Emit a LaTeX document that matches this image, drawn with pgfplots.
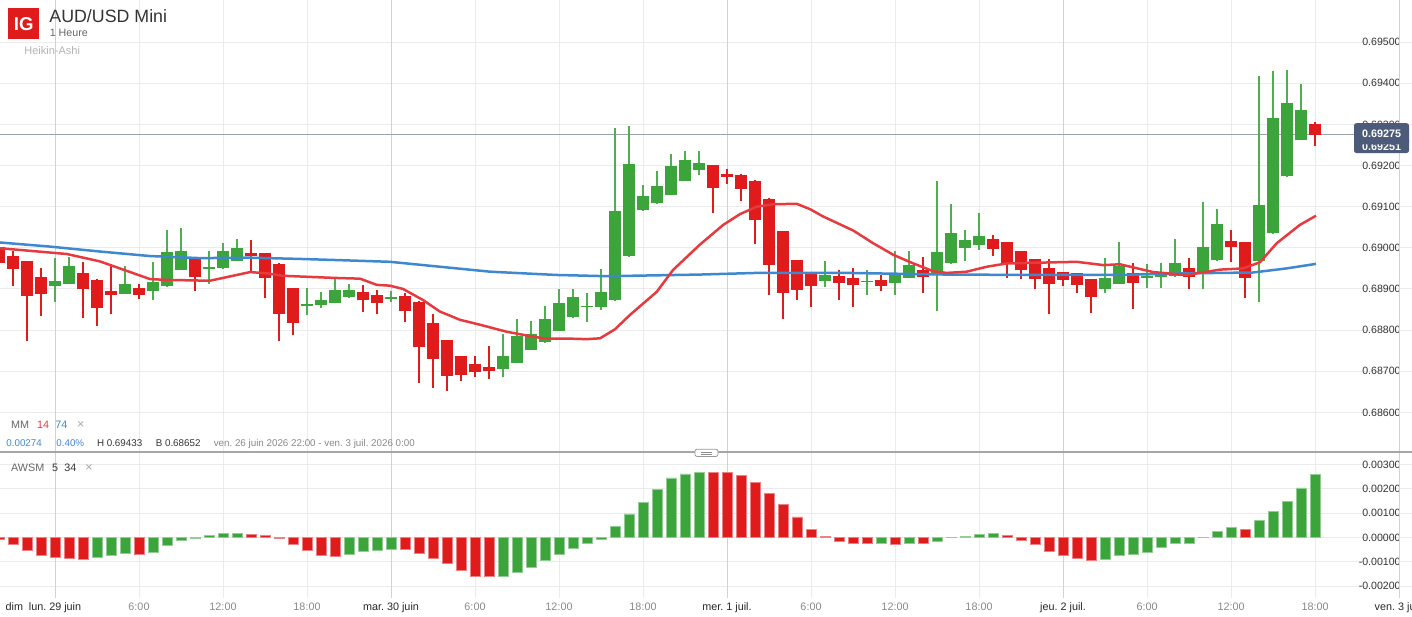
\documentclass[border=0pt]{standalone}
\usepackage{fontspec}
\setmainfont{Liberation Sans}
\usepackage{pgfplots}
\pgfplotsset{compat=1.18}
\usepackage{pgfplotstable}
\frenchspacing
\definecolor{cgreen}{HTML}{3BA43B}
\definecolor{cgreenw}{HTML}{4FAE4F}
\definecolor{cred}{HTML}{E01B1B}
\definecolor{mared}{HTML}{E63A3F}
\definecolor{mablue}{HTML}{3E88CF}
\definecolor{gridl}{HTML}{EBEBEB}
\definecolor{gridd}{HTML}{D2D2D2}
\definecolor{tagbg}{HTML}{4C5B79}
\definecolor{txt}{HTML}{333333}
\definecolor{txtg}{HTML}{888888}
\definecolor{pline}{HTML}{9AA2AA}
\newcommand\fs[1]{\fontsize{#1}{#1}\selectfont}

% Heikin-Ashi candles: hour index (0 = lun. 29 juin 0:00), open, high, low, close
\pgfplotstableread{
h o hi lo c
0 0.68908 0.68976 0.68869 0.68920
1 0.68913 0.68978 0.68912 0.68957
5 0.68888 0.68956 0.68887 0.68911
7 0.68895 0.68966 0.68873 0.68917
8 0.68906 0.69043 0.68905 0.68989
9 0.68946 0.69048 0.68945 0.68993
11 0.68949 0.68993 0.68912 0.68953
12 0.68950 0.69011 0.68949 0.68992
13 0.68969 0.69022 0.68968 0.68999
18 0.68859 0.68903 0.68837 0.68863
19 0.68860 0.68893 0.68854 0.68873
20 0.68866 0.68924 0.68865 0.68897
21 0.68880 0.68912 0.68879 0.68898
24 0.68876 0.68895 0.68869 0.68881
32 0.68705 0.68791 0.68686 0.68737
33 0.68721 0.68827 0.68720 0.68786
34 0.68752 0.68822 0.68751 0.68791
35 0.68770 0.68859 0.68769 0.68827
36 0.68798 0.68901 0.68797 0.68866
37 0.68831 0.68901 0.68830 0.68881
38 0.68855 0.68890 0.68819 0.68859
39 0.68856 0.68949 0.68849 0.68892
40 0.68872 0.69292 0.68871 0.69089
41 0.68979 0.69296 0.68978 0.69205
42 0.69091 0.69153 0.69090 0.69127
43 0.69108 0.69187 0.69107 0.69151
44 0.69129 0.69229 0.69128 0.69198
45 0.69163 0.69236 0.69162 0.69213
46 0.69188 0.69236 0.69178 0.69207
55 0.68920 0.68968 0.68904 0.68934
58 0.68917 0.68947 0.68886 0.68920
60 0.68914 0.68993 0.68885 0.68936
61 0.68927 0.68992 0.68926 0.68958
63 0.68938 0.69163 0.68847 0.68991
64 0.68962 0.69107 0.68961 0.69036
65 0.68999 0.69043 0.68967 0.69019
66 0.69008 0.69085 0.68995 0.69029
75 0.68901 0.68976 0.68889 0.68926
76 0.68913 0.69013 0.68912 0.68957
78 0.68927 0.68961 0.68903 0.68932
79 0.68930 0.68962 0.68903 0.68935
80 0.68931 0.69022 0.68930 0.68963
82 0.68941 0.69112 0.68899 0.69002
83 0.68970 0.69094 0.68969 0.69058
86 0.68968 0.69418 0.68868 0.69103
87 0.69035 0.69429 0.69034 0.69316
88 0.69174 0.69433 0.69173 0.69352
89 0.69262 0.69398 0.69261 0.69335
}\greenc

\pgfplotstableread{
h o hi lo c
-4 0.69003 0.69004 0.68940 0.68962
-3 0.68980 0.68993 0.68907 0.68949
-2 0.68968 0.68969 0.68774 0.68883
-1 0.68929 0.68951 0.68834 0.68888
2 0.68939 0.68966 0.68829 0.68900
3 0.68922 0.68923 0.68810 0.68854
4 0.68894 0.68956 0.68839 0.68886
6 0.68902 0.68911 0.68876 0.68886
10 0.68972 0.68973 0.68896 0.68929
14 0.68987 0.69019 0.68942 0.68981
15 0.68987 0.68988 0.68879 0.68927
16 0.68961 0.68962 0.68774 0.68840
17 0.68902 0.68903 0.68788 0.68818
22 0.68893 0.68910 0.68845 0.68872
23 0.68886 0.68898 0.68840 0.68867
25 0.68884 0.68890 0.68819 0.68847
26 0.68869 0.68870 0.68671 0.68758
27 0.68817 0.68839 0.68659 0.68730
28 0.68776 0.68777 0.68652 0.68689
29 0.68737 0.68738 0.68677 0.68692
30 0.68718 0.68737 0.68687 0.68697
31 0.68711 0.68761 0.68682 0.68701
47 0.69201 0.69202 0.69085 0.69146
48 0.69179 0.69192 0.69156 0.69171
49 0.69177 0.69180 0.69115 0.69144
50 0.69163 0.69164 0.69010 0.69068
51 0.69119 0.69120 0.68886 0.68959
52 0.69041 0.69042 0.68828 0.68891
53 0.68970 0.68971 0.68874 0.68898
54 0.68936 0.68937 0.68855 0.68906
56 0.68932 0.68946 0.68874 0.68915
57 0.68927 0.68951 0.68857 0.68910
59 0.68922 0.68935 0.68896 0.68906
62 0.68945 0.68978 0.68891 0.68928
67 0.69022 0.69031 0.68981 0.68998
68 0.69014 0.69015 0.68926 0.68960
69 0.68992 0.68993 0.68925 0.68946
70 0.68973 0.68974 0.68901 0.68923
71 0.68951 0.68973 0.68840 0.68913
72 0.68941 0.68942 0.68908 0.68922
73 0.68938 0.68939 0.68891 0.68910
74 0.68924 0.68925 0.68842 0.68881
77 0.68938 0.68963 0.68851 0.68915
81 0.68950 0.68975 0.68900 0.68930
84 0.69017 0.69043 0.68965 0.69003
85 0.69014 0.69015 0.68879 0.68927
90 0.69301 0.69306 0.69248 0.69275
}\redc

% moving averages (14 and 74)
\pgfplotstableread{
h p
-3.93 0.68999
0.84 0.68985
3.21 0.68967
6.79 0.68924
8.00 0.68922
11.07 0.68920
13.93 0.68941
15.14 0.68938
16.29 0.68932
19.86 0.68927
21.79 0.68925
22.98 0.68910
23.93 0.68908
24.86 0.68900
26.29 0.68873
27.50 0.68845
28.93 0.68825
30.36 0.68813
32.26 0.68796
34.14 0.68784
35.12 0.68779
37.00 0.68779
37.98 0.68778
38.93 0.68780
40.00 0.68802
41.07 0.68837
42.98 0.68893
44.14 0.68946
46.07 0.69008
47.74 0.69056
48.93 0.69082
50.12 0.69100
51.31 0.69106
52.98 0.69107
53.93 0.69094
54.88 0.69076
57.02 0.69042
58.45 0.69011
59.88 0.68983
61.31 0.68962
62.74 0.68943
63.69 0.68939
65.12 0.68942
66.55 0.68954
67.98 0.68962
70.36 0.68964
72.98 0.68966
74.88 0.68958
76.07 0.68960
78.45 0.68941
80.84 0.68934
83.21 0.68947
84.88 0.68950
86.07 0.68965
87.26 0.69011
88.93 0.69056
90.07 0.69078
}\mafast

\pgfplotstableread{
h p
-3.93 0.69013
-0.36 0.69003
3.21 0.68991
6.79 0.68980
10.36 0.68975
13.93 0.68976
17.50 0.68973
20.36 0.68970
23.93 0.68966
27.50 0.68954
31.07 0.68942
35.84 0.68934
39.41 0.68931
46.07 0.68935
50.12 0.68939
56.55 0.68939
63.69 0.68935
70.36 0.68934
76.07 0.68934
80.84 0.68938
85.57 0.68940
87.98 0.68950
90.07 0.68961
}\maslow

% Awesome oscillator (5, 34)
\pgfplotstableread{
h v
3 -0.00081
4 -0.00072
5 -0.00066
7 -0.00059
8 -0.00033
9 -0.00011
10 -0.00004
11 0.00007
12 0.00018
13 0.00018
21 -0.00068
22 -0.00058
23 -0.00053
24 -0.00047
32 -0.00158
33 -0.00142
34 -0.00121
35 -0.00096
36 -0.00070
37 -0.00044
38 -0.00026
39 -0.00006
40 0.00045
41 0.00097
42 0.00144
43 0.00198
44 0.00245
45 0.00262
46 0.00269
59 -0.00022
61 -0.00025
63 -0.00014
64 0.00001
65 0.00004
66 0.00011
67 0.00018
75 -0.00089
76 -0.00075
77 -0.00071
78 -0.00060
79 -0.00041
80 -0.00026
81 -0.00025
82 -0.00001
83 0.00025
84 0.00040
86 0.00071
87 0.00107
88 0.00149
89 0.00204
90 0.00261
}\awg

\pgfplotstableread{
h v
-4 -0.00009
-3 -0.00027
-2 -0.00053
-1 -0.00072
0 -0.00081
1 -0.00084
2 -0.00089
6 -0.00070
14 0.00011
15 0.00010
16 -0.00004
17 -0.00030
18 -0.00053
19 -0.00072
20 -0.00077
25 -0.00048
26 -0.00066
27 -0.00085
28 -0.00107
29 -0.00134
30 -0.00158
31 -0.00160
47 0.00269
48 0.00267
49 0.00256
50 0.00226
51 0.00181
52 0.00137
53 0.00085
54 0.00034
55 0.00004
56 -0.00015
57 -0.00022
58 -0.00025
60 -0.00028
62 -0.00025
68 0.00007
69 -0.00012
70 -0.00029
71 -0.00056
72 -0.00075
73 -0.00086
74 -0.00095
85 0.00035
}\awr

\pgfplotsset{
  panel/.style={
    scale only axis, width=706pt,
    xmin=-3.9286, xmax=96.9286,
    axis line style={draw=none}, major tick length=0pt,
    xtick={6,12,18,30,36,42,54,60,66,78,84,90},
    extra x ticks={0,24,48,72,96},
    extra x tick style={grid=major, major grid style={gridd, line width=0.5pt}},
    grid=major, major grid style={gridl, line width=0.5pt},
    yticklabel pos=right,
    yticklabel style={anchor=east, inner sep=0pt, xshift=-5.5pt, font=\fs{5.3}, text=txt},
    scaled y ticks=false,
  },
  wick/.style={draw=none, mark=none, forget plot, error bars/.cd, y dir=plus, y explicit, error mark=none, error bar style={draw=#1}},
}

\begin{document}
\begin{tikzpicture}
\useasboundingbox (0,0) rectangle (706pt,-308pt);

\begin{axis}[panel, at={(0pt,0pt)}, anchor=north west, height=226pt,
  ymin=0.685036, ymax=0.696025,
  xticklabels={}, extra x tick labels={},
  ytick={0.686,0.687,0.688,0.689,0.690,0.691,0.692,0.693,0.694,0.695},
  yticklabels={0.68600,0.68700,0.68800,0.68900,0.69000,0.69100,0.69200,0.69300,0.69400,0.69500},
]
\addplot[pline, line width=0.5pt, forget plot] coordinates {(-3.93,0.69275) (92.79,0.69275)};
% wicks
\addplot[wick={cgreenw, line width=0.65pt}] table[x=h, y=lo, y error plus expr=\thisrow{hi}-\thisrow{lo}] {\greenc};
\addplot[wick={cred, line width=1pt}] table[x=h, y=lo, y error plus expr=\thisrow{hi}-\thisrow{lo}] {\redc};
% bodies
\addplot[wick={cgreen, line width=5.9pt}] table[x=h, y=o, y error plus expr=\thisrow{c}-\thisrow{o}] {\greenc};
\addplot[wick={cred, line width=5.9pt}] table[x=h, y=c, y error plus expr=\thisrow{o}-\thisrow{c}] {\redc};
% moving averages
\addplot[mablue, line width=1.25pt, line join=round, mark=none] table[x=h, y=p] {\maslow};
\addplot[mared, line width=1.25pt, line join=round, mark=none] table[x=h, y=p] {\mafast};
\end{axis}

\begin{axis}[panel, at={(0pt,-226pt)}, anchor=north west, height=73pt,
  ymin=-0.00249, ymax=0.003519,
  ytick={-0.002,-0.001,0,0.001,0.002,0.003},
  yticklabels={-0.00200,-0.00100,0.00000,0.00100,0.00200,0.00300},
  xticklabels={\textcolor{txtg}{6:00},\textcolor{txtg}{12:00},\textcolor{txtg}{18:00},
               \textcolor{txtg}{6:00},\textcolor{txtg}{12:00},\textcolor{txtg}{18:00},
               \textcolor{txtg}{6:00},\textcolor{txtg}{12:00},\textcolor{txtg}{18:00},
               \textcolor{txtg}{6:00},\textcolor{txtg}{12:00},\textcolor{txtg}{18:00}},
  extra x tick labels={lun. 29 juin, mar. 30 juin, mer. 1 juil., jeu. 2 juil., ven. 3 juil.},
  xticklabel style={font=\fs{5.4}, text=black!85, anchor=base, inner sep=0pt, yshift=-6.3pt},
]
\addplot[ybar, bar width=5pt, bar shift=0pt, fill=cgreen, draw=cgreen!55!white, line width=0.35pt] table[x=h, y=v] {\awg};
\addplot[ybar, bar width=5pt, bar shift=0pt, fill=cred, draw=cred!55!white, line width=0.35pt] table[x=h, y=v] {\awr};
\end{axis}

% panel separator and handle
\draw[color=black!35, line width=0.6pt] (0,-226pt) -- (706pt,-226pt);
\draw[black!40, fill=white, rounded corners=1pt, line width=0.4pt] (347.5pt,-224.6pt) rectangle (359pt,-228.2pt);
\draw[black!45, line width=0.3pt] (350.5pt,-225.9pt) -- (356pt,-225.9pt) (350.5pt,-226.9pt) -- (356pt,-226.9pt);

% price tags
\fill[tagbg, rounded corners=1.2pt] (677pt,-68.5pt) rectangle (704.5pt,-76.5pt);
\node[text=white, font=\fs{5.4}\bfseries, inner sep=0pt] at (690.75pt,-73.4pt) {0.69251};
\fill[tagbg, rounded corners=1.2pt] (677pt,-61.6pt) rectangle (704.5pt,-72.2pt);
\node[text=white, font=\fs{5.4}\bfseries, inner sep=0pt] at (690.75pt,-67pt) {0.69275};

% header
\fill[cred] (4.15pt,-4.15pt) rectangle (19.65pt,-19.65pt);
\node[text=white, font=\fs{9.3}\bfseries, inner sep=0pt] at (11.9pt,-11.9pt) {IG};
\node[anchor=base west, inner sep=0pt, font=\fs{8.9}, text=txt] at (24.5pt,-11.35pt) {AUD/USD Mini};
\node[anchor=base west, inner sep=0pt, font=\fs{5.35}, text=black!60] at (24.7pt,-18.35pt) {1 Heure};
\node[anchor=base west, inner sep=0pt, font=\fs{5.5}, text=black!30] at (12pt,-27.15pt) {Heikin-Ashi};

% indicator legends
\node[anchor=base west, inner sep=0pt, font=\fs{5.4}, text=black!60] at (5.35pt,-214pt) {MM};
\node[anchor=base west, inner sep=0pt, font=\fs{5.4}, text=mared] at (18.35pt,-214pt) {14};
\node[anchor=base west, inner sep=0pt, font=\fs{5.4}, text=mablue] at (27.5pt,-214pt) {74};
\node[anchor=base west, inner sep=0pt, font=\fs{6.2}, text=black!35] at (38.3pt,-214pt) {×};
\node[anchor=base west, inner sep=0pt, font=\fs{4.9}, text=mablue] at (3pt,-223.3pt) {0.00274};
\node[anchor=base west, inner sep=0pt, font=\fs{4.9}, text=mablue] at (28pt,-223.3pt) {0.40\%};
\node[anchor=base west, inner sep=0pt, font=\fs{4.9}, text=txt] at (48.3pt,-223.3pt) {H 0.69433};
\node[anchor=base west, inner sep=0pt, font=\fs{4.9}, text=txt] at (77.7pt,-223.3pt) {B 0.68652};
\node[anchor=base west, inner sep=0pt, font=\fs{4.9}, text=txtg] at (106.7pt,-223.3pt) {ven. 26 juin 2026 22:00 - ven. 3 juil. 2026 0:00};
\node[anchor=base west, inner sep=0pt, font=\fs{5.4}, text=black!60] at (5.35pt,-235.8pt) {AWSM};
\node[anchor=base west, inner sep=0pt, font=\fs{5.4}, text=txt] at (25.85pt,-235.8pt) {5};
\node[anchor=base west, inner sep=0pt, font=\fs{5.4}, text=txt] at (32pt,-235.8pt) {34};
\node[anchor=base west, inner sep=0pt, font=\fs{6.2}, text=black!35] at (42.5pt,-235.8pt) {×};
\node[anchor=base, inner sep=0pt, font=\fs{5.4}, text=black!85] at (7.2pt,-305.3pt) {dim};
\end{tikzpicture}
\end{document}
